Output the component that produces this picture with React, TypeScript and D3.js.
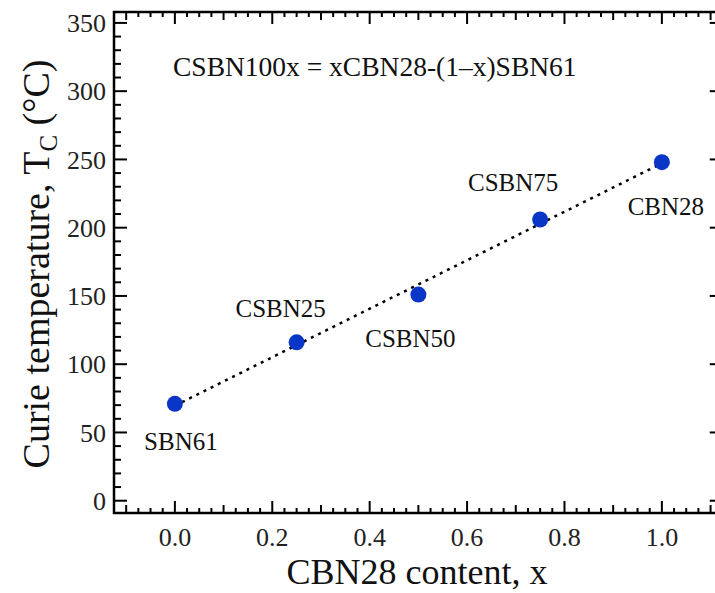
import React, { useEffect, useRef } from "react";
import * as d3 from "d3";

// CBN28 content x, and Curie temperature (°C)
const contents = [0, 0.25, 0.5, 0.75, 1.0];
const curieTemps = [71, 116, 151, 206, 248];
const sampleNames = ["SBN61", "CSBN25", "CSBN50", "CSBN75", "CBN28"];
// label placement relative to each point (px)
const labelOffsets = [
  [6, 46],
  [-16, -25],
  [-8, 52],
  [-27, -28],
  [4, 53],
];
const xTickLabels = ["0.0", "0.2", "0.4", "0.6", "0.8", "1.0"];
const yTickLabels = ["0", "50", "100", "150", "200", "250", "300", "350"];

const W = 715;
const H = 593;
const FONT = "'Liberation Serif', 'Times New Roman', serif";

export default function App() {
  const ref = useRef<SVGSVGElement>(null);

  useEffect(() => {
    const svg = d3.select(ref.current);
    svg.selectAll("*").remove();

    const left = 114;
    const top = 12;
    const bottom = 513;
    const x = d3.scaleLinear().domain([-0.125, 1.125]).range([left, left + 1.25 * 487]);
    const y = d3.scaleLinear().domain([-9, 358]).range([bottom, top]);
    const right = x(1.125);

    const g = svg.append("g");

    // x ticks (bottom and top), every 0.025
    const xt = d3.range(-5, 46).map((i) => i * 0.025);
    xt.forEach((v, i) => {
      const k = i - 5;
      const len = k % 8 === 0 ? 12 : k % 4 === 0 ? 8 : 5;
      const px = x(v);
      g.append("line").attr("x1", px).attr("x2", px).attr("y1", bottom).attr("y2", bottom - len)
        .attr("stroke", "#000").attr("stroke-width", 2);
      g.append("line").attr("x1", px).attr("x2", px).attr("y1", top).attr("y2", top + len)
        .attr("stroke", "#000").attr("stroke-width", 2);
    });

    // y ticks, every 10
    d3.range(0, 36).forEach((i) => {
      const v = i * 10;
      const len = v % 50 === 0 ? 13 : 7;
      const py = y(v);
      g.append("line").attr("x1", left).attr("x2", left + len).attr("y1", py).attr("y2", py)
        .attr("stroke", "#000").attr("stroke-width", 2);
      g.append("line").attr("x1", right).attr("x2", right - len).attr("y1", py).attr("y2", py)
        .attr("stroke", "#000").attr("stroke-width", 2);
    });

    // frame
    g.append("rect").attr("x", left).attr("y", top).attr("width", right - left).attr("height", bottom - top)
      .attr("fill", "none").attr("stroke", "#000").attr("stroke-width", 2.5);

    // tick labels
    xTickLabels.forEach((t) => {
      g.append("text").attr("x", x(+t)).attr("y", 546).attr("text-anchor", "middle")
        .attr("font-family", FONT).attr("font-size", 26).attr("fill", "#222").text(t);
    });
    yTickLabels.forEach((t) => {
      g.append("text").attr("x", 106).attr("y", y(+t)).attr("dy", "0.35em").attr("text-anchor", "end")
        .attr("font-family", FONT).attr("font-size", 26).attr("fill", "#222").text(t);
    });

    // axis titles
    g.append("text").attr("x", 417).attr("y", 584).attr("text-anchor", "middle")
      .attr("font-family", FONT).attr("font-size", 36).attr("fill", "#111").text("CBN28 content, x");

    const yt = g.append("text").attr("transform", "translate(49,264) rotate(-90)").attr("text-anchor", "middle")
      .attr("font-family", FONT).attr("font-size", 38).attr("fill", "#111");
    yt.append("tspan").text("Curie temperature, T");
    yt.append("tspan").attr("font-size", 25).attr("dy", 8).text("C");
    yt.append("tspan").attr("dy", -8).text(" (°C)");

    // annotation
    g.append("text").attr("x", 173).attr("y", 76).attr("font-family", FONT).attr("font-size", 27.5)
      .attr("fill", "#111").text("CSBN100x = xCBN28-(1\u2013x)SBN61");

    // linear fit
    const fit = d3.zip(contents, curieTemps);
    const mx = d3.mean(contents) as number;
    const my = d3.mean(curieTemps) as number;
    const slope = (d3.sum(fit, ([a, b]) => (a - mx) * (b - my)) as number) /
      (d3.sum(contents, (a) => (a - mx) * (a - mx)) as number);
    const icpt = my - slope * mx;
    const line = d3.line<number>().x((v) => x(v)).y((v) => y(icpt + slope * v));
    g.append("path").attr("d", line([0, 1])).attr("fill", "none").attr("stroke", "#000")
      .attr("stroke-width", 2.5).attr("stroke-dasharray", "3,5");

    // points
    contents.forEach((c, i) => {
      g.append("circle").attr("cx", x(c)).attr("cy", y(curieTemps[i])).attr("r", 8).attr("fill", "#0a36c8");
      g.append("text").attr("x", x(c) + labelOffsets[i][0]).attr("y", y(curieTemps[i]) + labelOffsets[i][1])
        .attr("text-anchor", "middle").attr("font-family", FONT).attr("font-size", 25).attr("fill", "#111")
        .text(sampleNames[i]);
    });
  }, []);

  return (
    <svg ref={ref} width={W} height={H} style={{ position: "absolute", left: 0, top: 0, background: "#fff" }} />
  );
}
